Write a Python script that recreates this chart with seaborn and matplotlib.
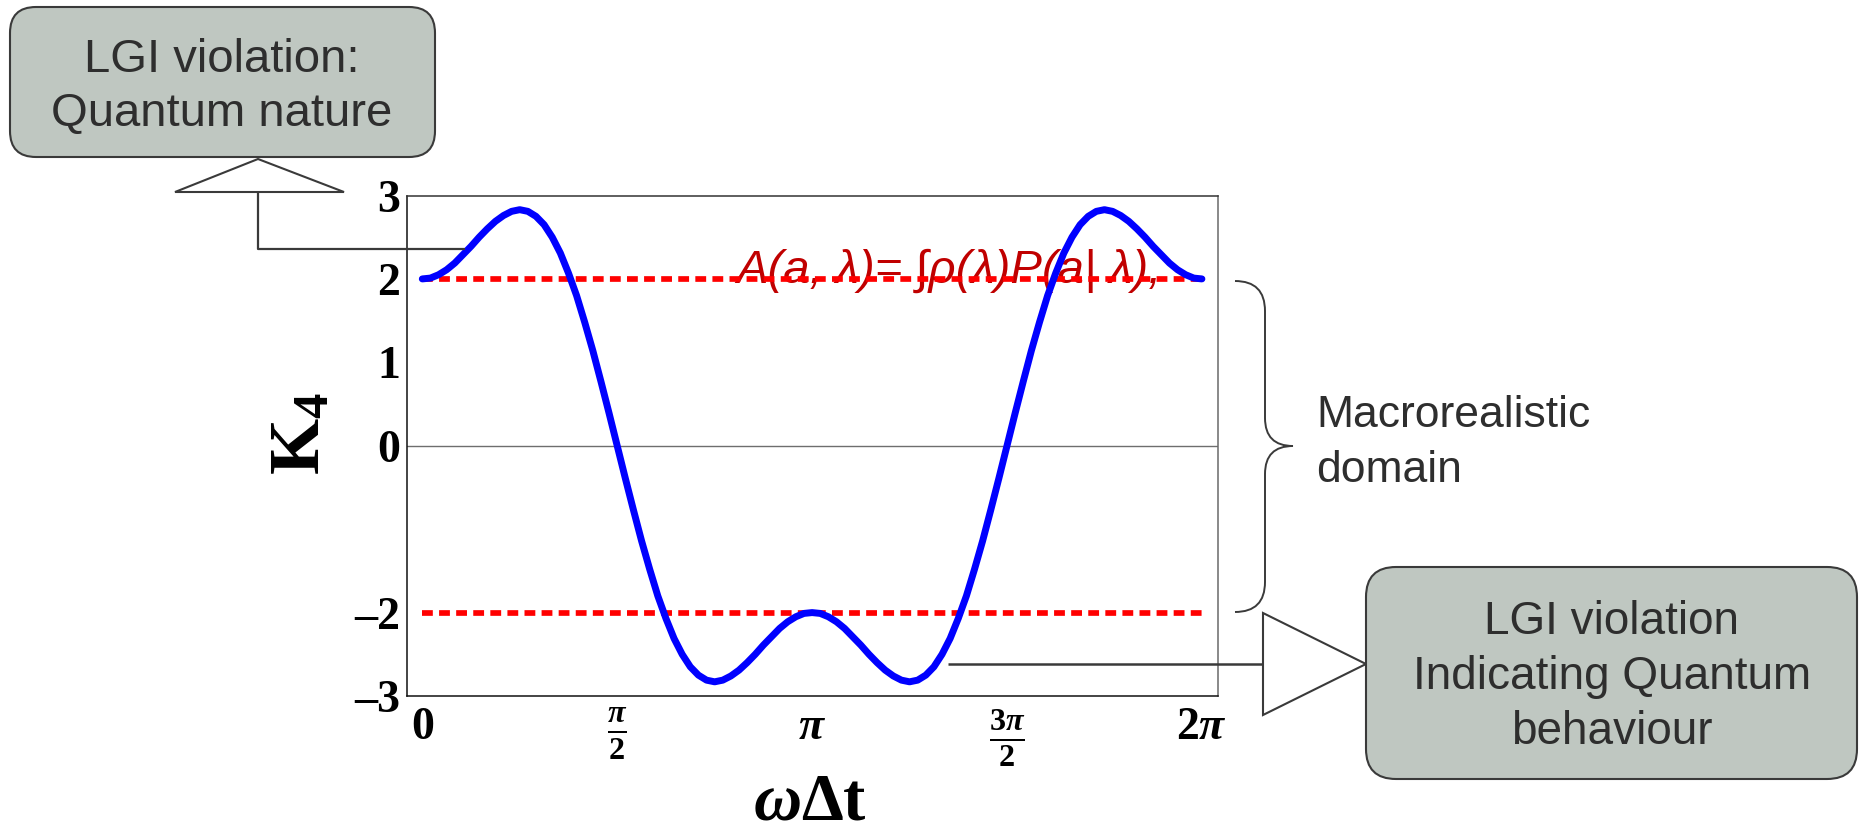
import numpy as np
import matplotlib
matplotlib.use('Agg')
import matplotlib.pyplot as plt
import seaborn as sns
from matplotlib.patches import FancyBboxPatch, Polygon, PathPatch
from matplotlib.path import Path

# ---------------- data ----------------
# omega*Delta t sampled every pi/48 over [0, 2pi]
omega_dt = [k * np.pi / 48 for k in range(97)]
k4_values = [2.00, 2.01, 2.05, 2.11, 2.19, 2.29, 2.39, 2.50, 2.60, 2.69, 2.76, 2.81,
             2.83, 2.81, 2.75, 2.65, 2.50, 2.31, 2.07, 1.80, 1.48, 1.14, 0.77, 0.39,
             0.00, -0.39, -0.77, -1.14, -1.48, -1.80, -2.07, -2.31, -2.50, -2.65, -2.75, -2.81,
             -2.83, -2.81, -2.76, -2.69, -2.60, -2.50, -2.39, -2.29, -2.19, -2.11, -2.05, -2.01,
             -2.00,
             -2.01, -2.05, -2.11, -2.19, -2.29, -2.39, -2.50, -2.60, -2.69, -2.76, -2.81, -2.83,
             -2.81, -2.75, -2.65, -2.50, -2.31, -2.07, -1.80, -1.48, -1.14, -0.77, -0.39, 0.00,
             0.39, 0.77, 1.14, 1.48, 1.80, 2.07, 2.31, 2.50, 2.65, 2.75, 2.81, 2.83,
             2.81, 2.76, 2.69, 2.60, 2.50, 2.39, 2.29, 2.19, 2.11, 2.05, 2.01, 2.00]
bound_levels = [2, -2]
bound_span = [0, 2 * np.pi]
ytick_values = [-3, -2, 0, 1, 2, 3]
ytick_labels = ['\u20133', '\u20132', '0', '1', '2', '3']
xtick_values = [0, np.pi / 2, np.pi, 3 * np.pi / 2, 2 * np.pi]
xtick_labels = [r'$0$', r'$\frac{\pi}{2}$', r'$\pi$', r'$\frac{3\pi}{2}$', r'$2\pi$']
ylabel_text = r'$\mathrm{K}_\mathrm{4}$'
xlabel_text = r'$\omega\Delta\mathrm{t}$'
formula_text = 'A(a, \u03bb)= \u222b\u03c1(\u03bb)P(a| \u03bb),'
box1_text = 'LGI violation:\nQuantum nature'
box2_text = 'LGI violation\nIndicating Quantum\nbehaviour'
domain_text = 'Macrorealistic\ndomain'

# ---------------- style ----------------
sns.set_theme(style='white')
plt.rcParams['font.family'] = ['Liberation Serif', 'DejaVu Serif']
plt.rcParams['font.weight'] = 'bold'
plt.rcParams['mathtext.fontset'] = 'custom'
plt.rcParams['mathtext.rm'] = 'Liberation Serif:bold'
plt.rcParams['mathtext.bf'] = 'Liberation Serif:bold'
plt.rcParams['mathtext.it'] = 'Liberation Serif:italic:bold'

W, H = 1863, 836
fig = plt.figure(figsize=(W / 100, H / 100), dpi=100)
fig.patch.set_facecolor('white')

L, R, T, B = 406.7, 1217.5, 195.5, 696.0
ax = fig.add_axes([L / W, 1 - B / H, (R - L) / W, (B - T) / H])
ax.set_facecolor('white')

span = 2 * np.pi
ax.set_xlim(-0.02 * span, 1.02 * span)
ax.set_ylim(-3, 3)

ax.axhline(0, color='#6e6e6e', lw=1.0, zorder=1)
for lvl in bound_levels:
    ax.plot(bound_span, [lvl, lvl], color='#ff0000', lw=4.1,
            dashes=(1.9, 1.1), solid_capstyle='butt', dash_capstyle='butt', zorder=3)

sns.lineplot(x=omega_dt, y=k4_values, ax=ax, color='#0000ff', lw=5.0,
             sort=False, estimator=None, zorder=4)
for ln in ax.get_lines():
    ln.set_solid_joinstyle('round')

ax.set_xticks(xtick_values)
ax.set_xticklabels(xtick_labels)
ax.set_yticks(ytick_values)
ax.set_yticklabels(ytick_labels)
ax.tick_params(axis='both', direction='in', length=7, width=1.1, color='#333333',
               labelcolor='black', labelsize=33)
ax.tick_params(axis='y', pad=5)
ax.tick_params(axis='x', pad=8)
for lab in ax.get_yticklabels() + ax.get_xticklabels():
    lab.set_fontweight('bold')
ax.set_xlabel('')
ax.set_ylabel('')

for side, col in [('left', '#111111'), ('bottom', '#111111'), ('top', '#333333'), ('right', '#6a6a6a')]:
    ax.spines[side].set_visible(True)
    ax.spines[side].set_color(col)
    ax.spines[side].set_linewidth(1.1)

# ---------------- overlay in pixel coords ----------------
ov = fig.add_axes([0, 0, 1, 1], zorder=5)
ov.set_xlim(0, W)
ov.set_ylim(H, 0)
ov.axis('off')
ov.patch.set_alpha(0)

# formula in dark red, beneath the dashed line
ax.text(736, 283, formula_text, transform=ov.transData, fontsize=34, style='italic',
        fontweight='normal', family=['Liberation Sans', 'DejaVu Sans'],
        color='#c00000', ha='left', va='baseline', zorder=2.5)

# axis labels
ov.text(302, 433, ylabel_text, fontsize=52, rotation=90,
        ha='center', va='center', color='black')
ov.text(810, 834, xlabel_text, fontsize=48, ha='center', va='bottom', color='black')

box_face = '#bfc7c1'
edge = '#3a3a3a'
txt_col = '#2e2e2e'
sans = ['Liberation Sans', 'DejaVu Sans']

# box 1
ov.add_patch(FancyBboxPatch((10, 7), 425, 150, boxstyle='round,pad=0,rounding_size=26',
                            fc=box_face, ec=edge, lw=1.5))
ov.text(222, 87, box1_text, fontsize=34, family=sans, fontweight='normal', color=txt_col,
        ha='center', va='center', linespacing=1.3, multialignment='center')
ov.add_patch(Polygon([(175, 192), (258, 159), (344, 192)], closed=True, fc='white', ec=edge, lw=1.5))
ov.plot([258, 258, 465], [192, 249, 249], color=edge, lw=1.6, solid_capstyle='butt')

# box 2
ov.add_patch(FancyBboxPatch((1366, 567), 491, 212, boxstyle='round,pad=0,rounding_size=30',
                            fc=box_face, ec=edge, lw=1.5))
ov.text(1612, 677, box2_text, fontsize=33, family=sans, fontweight='normal', color=txt_col,
        ha='center', va='center', linespacing=1.32, multialignment='center')
ov.add_patch(Polygon([(1263, 613), (1366, 664), (1263, 715)], closed=True, fc='white', ec=edge, lw=1.5))
ov.plot([948, 1263], [664, 664], color=edge, lw=1.8, solid_capstyle='butt')

# brace
verts = [(1235, 281), (1265, 281), (1265, 311),
         (1265, 418),
         (1265, 446), (1293, 446),
         (1265, 446), (1265, 474),
         (1265, 582),
         (1265, 612), (1235, 612)]
codes = [Path.MOVETO, Path.CURVE3, Path.CURVE3,
         Path.LINETO,
         Path.CURVE3, Path.CURVE3,
         Path.CURVE3, Path.CURVE3,
         Path.LINETO,
         Path.CURVE3, Path.CURVE3]
ov.add_patch(PathPatch(Path(verts, codes), fc='none', ec=edge, lw=1.4))
ov.text(1316, 443, domain_text, fontsize=32, family=sans, fontweight='normal', color=txt_col,
        ha='left', va='center', linespacing=1.45)

fig.savefig('out.png', dpi=100, facecolor='white')
